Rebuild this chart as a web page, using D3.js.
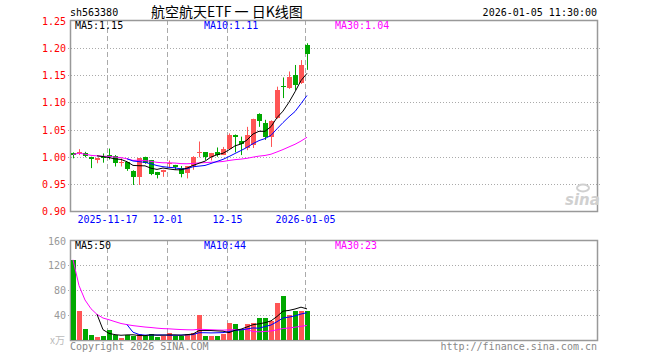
<!DOCTYPE html>
<html>
<head>
<meta charset="utf-8">
<script src="https://cdn.jsdelivr.net/npm/d3@7"></script>
<style>
  body { margin: 0; background: #fff; }
  text { font-family: "DejaVu Sans Mono", monospace; font-size: 10px; }
</style>
</head>
<body>
<svg id="chart" width="660" height="360"></svg>
<script>
// trading days, 2025-11-07 .. 2026-01-05
var dates = ["2025-11-07","2025-11-10","2025-11-11","2025-11-12","2025-11-13","2025-11-14",
             "2025-11-17","2025-11-18","2025-11-19","2025-11-20","2025-11-21",
             "2025-11-24","2025-11-25","2025-11-26","2025-11-27","2025-11-28",
             "2025-12-01","2025-12-02","2025-12-03","2025-12-04","2025-12-05",
             "2025-12-08","2025-12-09","2025-12-10","2025-12-11","2025-12-12",
             "2025-12-15","2025-12-16","2025-12-17","2025-12-18","2025-12-19",
             "2025-12-22","2025-12-23","2025-12-24","2025-12-25","2025-12-26",
             "2025-12-29","2025-12-30","2025-12-31","2026-01-05"];

var open  = [1.006,1.006,1.006,1.000,0.994,1.000,1.003,1.001,0.989,0.990,
             0.974,0.962,0.999,0.994,0.972,0.971,0.987,0.984,0.979,0.970,
             0.982,1.007,1.008,0.999,1.008,1.003,1.015,1.040,1.029,1.016,
             1.022,1.079,1.063,1.036,1.071,1.131,1.126,1.150,1.135,1.206];
var close = [1.004,1.009,1.001,0.996,0.998,0.997,1.000,0.989,0.991,0.977,
             0.963,0.997,0.988,0.969,0.966,0.976,0.988,0.981,0.968,0.982,
             1.000,1.009,1.000,1.006,1.003,1.014,1.040,1.037,1.023,1.040,
             1.069,1.065,1.037,1.066,1.123,1.129,1.147,1.133,1.169,1.190];
var high  = [1.008,1.014,1.009,1.000,0.998,1.006,1.015,1.003,0.997,0.990,
             0.975,0.997,1.000,0.994,0.972,0.976,0.993,0.985,0.983,0.982,
             1.001,1.028,1.008,1.007,1.017,1.018,1.043,1.041,1.037,1.055,
             1.070,1.080,1.068,1.067,1.129,1.146,1.157,1.169,1.178,1.209];
var low   = [0.997,1.003,0.999,0.979,0.988,0.989,0.995,0.982,0.982,0.974,
             0.948,0.948,0.987,0.966,0.960,0.963,0.980,0.976,0.962,0.960,
             0.976,0.999,0.994,0.993,1.000,1.003,1.013,1.008,1.003,1.012,
             1.016,1.055,1.031,1.018,1.070,1.108,1.125,1.123,1.134,1.160];
// volume, 万
var volume = [129,46,18,8,5,6,16,8,3,8,
              7,10,7,10,5,7,12,7,7,10,
              12,40,7,7,7,10,28,26,16,25,
              28,35,35,31,60,71,41,46,46,46];

var priceTicks = [0.90,0.95,1.00,1.05,1.10,1.15,1.20,1.25];
var volTicks = [40,80,120,160];
var tickDates = ["2025-11-17","2025-12-01","2025-12-15","2026-01-05"];
var tickLabels = ["2025-11-17","12-01","12-15","2026-01-05"];

var upColor = "#ff5555", downColor = "#00a800";
var maColors = {5: "#000000", 10: "#0000ff", 30: "#ff00ff"};

function ma(values, n, partial) {
  var out = [];
  for (var i = 0; i < values.length; i++) {
    if (i < n - 1 && !partial) { out.push(null); continue; }
    var from = Math.max(0, i - n + 1);
    out.push(d3.mean(values.slice(from, i + 1)));
  }
  return out;
}

var svg = d3.select("#chart");
var left = 70, right = 597;

var x = d3.scaleBand()
          .domain(dates)
          .range([left, left + 6 * dates.length])
          .paddingInner(1 / 6)
          .paddingOuter(1 / 12);
var bw = x.bandwidth();

var yP = d3.scaleLinear().domain([0.90, 1.25]).range([211, 21]);
var yV = d3.scaleLinear().domain([0, 160]).range([340, 240.5]);

// header
svg.append("text")
   .attr("x", 70).attr("y", 16)
   .attr("fill", "#000")
   .text("sh563380");
svg.append("text")
   .attr("x", 151).attr("y", 17)
   .attr("fill", "#000")
   .style("font-family", "'Noto Sans CJK SC', sans-serif")
   .style("font-size", "14px")
   .text("航空航天ETF 一 日K线图");
svg.append("text")
   .attr("x", right).attr("y", 16)
   .attr("text-anchor", "end")
   .attr("fill", "#000")
   .text("2026-01-05 11:30:00");

function panel(y0, y1, scale, ticks) {
  var g = svg.append("g");
  g.selectAll(".hgrid")
   .data(ticks.filter(function (t) { return scale(t) > y0 + 2 && scale(t) < y1 - 2; }))
   .enter().append("line")
   .attr("x1", left - 2).attr("x2", right + 3)
   .attr("y1", function (t) { return Math.round(scale(t)) + 0.5; })
   .attr("y2", function (t) { return Math.round(scale(t)) + 0.5; })
   .attr("stroke", "#aaa")
   .attr("stroke-dasharray", "1,2");
  g.selectAll(".vgrid")
   .data(tickDates)
   .enter().append("line")
   .attr("x1", function (d) { return Math.round(x(d)) + 0.5; })
   .attr("x2", function (d) { return Math.round(x(d)) + 0.5; })
   .attr("y1", y0).attr("y2", y1)
   .attr("stroke", "#aaa")
   .attr("stroke-dasharray", "5,3");
  g.append("rect")
   .attr("x", left + 0.5).attr("y", y0 + 0.5)
   .attr("width", right - left).attr("height", y1 - y0)
   .attr("fill", "none")
   .attr("stroke", "#999")
   .attr("stroke-width", 1.5);
  return g;
}

panel(20, 211, yP, priceTicks);
panel(240, 340, yV, volTicks);

// price axis labels
svg.selectAll(".plabel")
   .data(priceTicks)
   .enter().append("text")
   .attr("x", 66)
   .attr("y", function (t) { return yP(t) + 4; })
   .attr("text-anchor", "end")
   .attr("fill", "#ff0000")
   .text(function (t) { return t.toFixed(2); });

// volume axis labels
svg.selectAll(".vlabel")
   .data(volTicks)
   .enter().append("text")
   .attr("x", 66)
   .attr("y", function (t) { return yV(t) + 4; })
   .attr("text-anchor", "end")
   .attr("fill", "#999")
   .text(function (t) { return t; });
svg.append("text")
   .attr("x", 50).attr("y", 344)
   .attr("fill", "#bbb")
   .style("font-family", "'Noto Sans CJK SC', sans-serif")
   .text("x万");

// date labels
svg.selectAll(".xlabel")
   .data(tickDates)
   .enter().append("text")
   .attr("x", function (d) { return x(d) + 1; })
   .attr("y", 223)
   .attr("text-anchor", "middle")
   .attr("fill", "#0000ff")
   .text(function (d, i) { return tickLabels[i]; });

// watermark
svg.append("text")
   .attr("x", 565).attr("y", 205)
   .attr("fill", "#d0d0d0")
   .style("font-family", "'DejaVu Sans', sans-serif")
   .style("font-size", "15px")
   .style("font-style", "italic")
   .style("font-weight", "bold")
   .text("sina");
svg.append("ellipse")
   .attr("cx", 583).attr("cy", 188)
   .attr("rx", 6).attr("ry", 3.5)
   .attr("fill", "none")
   .attr("stroke", "#d0d0d0")
   .attr("stroke-width", 2);

// candles
var candles = svg.append("g");
dates.forEach(function (d, i) {
  var up = close[i] >= open[i];
  var col = up ? upColor : downColor;
  var cx = Math.round(x(d) + bw / 2) + 0.5;
  candles.append("line")
         .attr("x1", cx).attr("x2", cx)
         .attr("y1", yP(high[i])).attr("y2", yP(low[i]))
         .attr("stroke", col);
  var yTop = yP(Math.max(open[i], close[i]));
  var yBot = yP(Math.min(open[i], close[i]));
  candles.append("rect")
         .attr("x", Math.round(x(d)))
         .attr("y", yTop)
         .attr("width", Math.round(bw))
         .attr("height", Math.max(1, yBot - yTop))
         .attr("fill", col)
         .style("shape-rendering", "crispEdges");
});

// volume bars
svg.append("g").selectAll("rect")
   .data(volume)
   .enter().append("rect")
   .attr("x", function (v, i) { return Math.round(x(dates[i])); })
   .attr("y", function (v) { return yV(v); })
   .attr("width", Math.round(bw))
   .attr("height", function (v) { return yV(0) - yV(v); })
   .attr("fill", function (v, i) { return close[i] >= open[i] ? upColor : downColor; })
   .style("shape-rendering", "crispEdges");

// moving averages
function drawMA(series, scale) {
  var res = {};
  [30, 10, 5].forEach(function (n) {
    var vals = ma(series, n, n === 30);
    res[n] = vals[vals.length - 1];
    var line = d3.line()
                 .defined(function (v) { return v !== null; })
                 .x(function (v, i) { return x(dates[i]) + bw / 2; })
                 .y(function (v) { return scale(v); });
    svg.append("path")
       .datum(vals)
       .attr("d", line)
       .attr("fill", "none")
       .attr("stroke", maColors[n])
       .attr("stroke-width", 1);
  });
  return res;
}

var pMA = drawMA(close, yP);
var vMA = drawMA(volume, yV);

function legend(y, vals, digits) {
  [[5, 75], [10, 204], [30, 335]].forEach(function (p) {
    svg.append("text")
       .attr("x", p[1]).attr("y", y)
       .attr("fill", maColors[p[0]])
       .text("MA" + p[0] + ":" + vals[p[0]].toFixed(digits));
  });
}
legend(29, pMA, 2);
legend(249, vMA, 0);

// footer
svg.append("text")
   .attr("x", 70).attr("y", 350)
   .attr("fill", "#888")
   .text("Copyright 2026 SINA.COM");
svg.append("text")
   .attr("x", right).attr("y", 350)
   .attr("text-anchor", "end")
   .attr("fill", "#888")
   .text("http://finance.sina.com.cn");
</script>
</body>
</html>
